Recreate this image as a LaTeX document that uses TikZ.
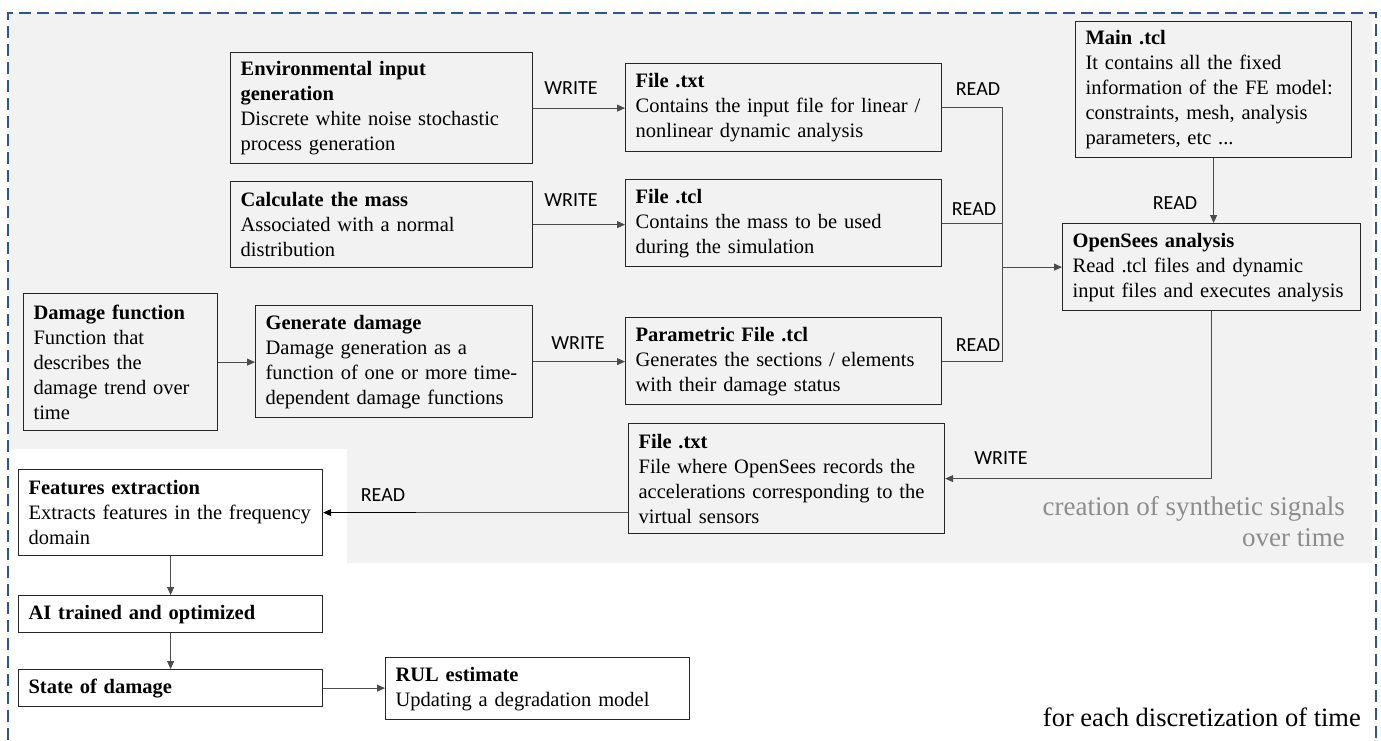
\documentclass[tikz,border=0pt]{standalone}
\usepackage{fontspec}
\setmainfont{Liberation Serif}
\newfontfamily\labfont{Carlito}
\usetikzlibrary{arrows.meta}
\definecolor{bordblue}{RGB}{47,85,151}
\definecolor{bggray}{RGB}{242,242,242}
\definecolor{notegray}{RGB}{140,140,140}
\begin{document}
\begin{tikzpicture}[x=1pt,y=-1pt,
 box/.style={draw=black!85, line width=1.2pt, anchor=north west, align=left, inner xsep=10pt, inner ysep=0pt, font=\fontsize{20.5pt}{25pt}\selectfont},
 conn/.style={draw=black!70, line width=0.9pt},
 arr/.style={conn, -{Triangle[length=8pt,width=7pt]}},
 lab/.style={font=\labfont\fontsize{20pt}{24pt}\selectfont, inner sep=0pt},
 note/.style={font=\fontsize{27pt}{31pt}\selectfont, align=right, inner sep=0pt}]
\useasboundingbox (0,0) rectangle (1381,740);
\fill[bggray] (9,13) -- (1372,13) -- (1372,563) -- (347,563) -- (347,449) -- (9,449) -- cycle;
\draw[bordblue, line width=1.5pt, dash pattern=on 12pt off 6pt] (8,740) -- (8,13) -- (1376,13) -- (1376,740);

\node[box, minimum width=302pt, minimum height=111pt, text width=282pt] (env) at (230,52)
 {\textbf{Environmental input}\\\textbf{generation}\\Discrete white noise stochastic\\process generation};
\node[box, minimum width=316pt, minimum height=88pt, text width=296pt] (filetxt) at (625,63)
 {\textbf{File .txt}\\Contains the input file for linear /\\nonlinear dynamic analysis};
\node[box, minimum width=276pt, minimum height=136pt, text width=256pt] (maintcl) at (1075,21)
 {\textbf{Main .tcl}\\It contains all the fixed\\information of the FE model:\\constraints, mesh, analysis\\parameters, etc ...};
\node[box, minimum width=302pt, minimum height=86pt, text width=282pt] (calc) at (230,181)
 {\textbf{Calculate the mass}\\Associated with a normal\\distribution};
\node[box, minimum width=316pt, minimum height=87pt, text width=296pt] (filetcl) at (625,179)
 {\textbf{File .tcl}\\Contains the mass to be used\\during the simulation};
\node[box, minimum width=298pt, minimum height=87pt, text width=278pt] (opensees) at (1062,223)
 {\textbf{OpenSees analysis}\\Read .tcl files and dynamic\\input files and executes analysis};
\node[box, minimum width=194pt, minimum height=137pt, text width=174pt] (dmgfn) at (23,293)
 {\textbf{Damage function}\\Function that\\describes the\\damage trend over\\time};
\node[box, minimum width=277pt, minimum height=112pt, text width=257pt] (gendmg) at (255,305)
 {\textbf{Generate damage}\\Damage generation as a\\function of one or more time-\\dependent damage functions};
\node[box, minimum width=316pt, minimum height=87pt, text width=296pt] (param) at (625,317)
 {\textbf{Parametric File .tcl}\\Generates the sections / elements\\with their damage status};
\node[box, minimum width=316pt, minimum height=110pt, text width=296pt] (filetxt2) at (628,423)
 {\textbf{File .txt}\\File where OpenSees records the\\accelerations corresponding to the\\virtual sensors};
\node[box, minimum width=304pt, minimum height=86pt, text width=284pt] (features) at (18,469)
 {\textbf{Features extraction}\\Extracts features in the frequency\\domain};
\node[box, minimum width=304pt, minimum height=37pt, text width=284pt] (ai) at (18,595)
 {\textbf{AI trained and optimized}};
\node[box, minimum width=304pt, minimum height=37pt, text width=284pt] (state) at (18,669)
 {\textbf{State of damage}};
\node[box, minimum width=304pt, minimum height=62pt, text width=284pt] (rul) at (385,657)
 {\textbf{RUL estimate}\\Updating a degradation model};

\path (opensees.west) ++(-60,0) coordinate (J);
\path (features.east) ++(93,0) coordinate (K);
\draw[arr] (env.east) -- (env.east -| filetxt.west);
\draw[arr] (calc.east) -- (calc.east -| filetcl.west);
\draw[arr] (dmgfn.east) -- (dmgfn.east -| gendmg.west);
\draw[arr] (gendmg.east) -- (gendmg.east -| param.west);
\draw[conn] (filetxt.east) -| (J);
\draw[conn] (param.east) -| (J);
\draw[conn] (filetcl.east) -- (filetcl.east -| J);
\draw[arr] (J) -- (opensees.west);
\draw[arr] (maintcl.south) -- (maintcl.south |- opensees.north);
\draw[arr] (opensees.south) |- (filetxt2.east);
\draw[conn] (filetxt2.west |- features.east) -- (K);
\draw[arr, draw=black] (K) -- (features.east);
\draw[arr] (features.south) -- (features.south |- ai.north);
\draw[arr] (ai.south) -- (ai.south |- state.north);
\draw[arr] (state.east) -- (state.east -| rul.west);

\node[lab] (w1) at (571,88) {WRITE};
\node[lab] (w2) at (571,200) {WRITE};
\node[lab] (w3) at (578,343) {WRITE};
\node[lab] (r1) at (978,89) {READ};
\node[lab] (r2) at (974,209) {READ};
\node[lab] (r3) at (978,345) {READ};
\node[lab] (r4) at (1175,203) {READ};
\node[lab] (w4) at (1001,458) {WRITE};
\node[lab] (r5) at (383,495) {READ};

\node[note, text=notegray, anchor=east] (n1) at (1345,522) {creation of synthetic signals\\over time};
\node[note, anchor=east, font=\fontsize{26.5pt}{31pt}\selectfont] (n2) at (1361,717) {for each discretization of time};
\end{tikzpicture}
\end{document}
